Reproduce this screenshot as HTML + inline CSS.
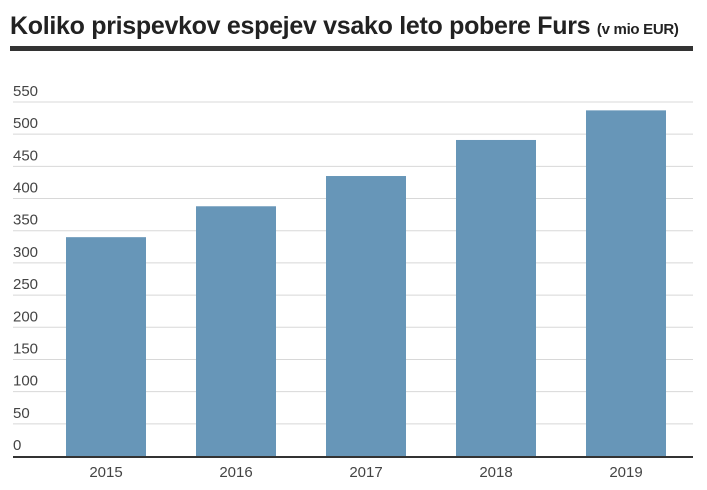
<!DOCTYPE html>
<html><head><meta charset="utf-8"><style>
body{margin:0;background:#fff;width:707px;height:490px;overflow:hidden;font-family:"Liberation Sans Narrow","Liberation Sans",sans-serif}
.t{position:absolute;left:10px;top:12px;font-size:25px;font-weight:bold;color:#222;letter-spacing:-0.3px;white-space:nowrap}
.t span{font-size:15px}
.rule{position:absolute;left:10px;top:46px;width:683px;height:5px;background:#333}
</style></head><body>
<div class="t">Koliko prispevkov espejev vsako leto pobere Furs <span>(v mio EUR)</span></div>
<div class="rule"></div>
<svg id="c" width="707" height="490" style="position:absolute;left:0;top:0"></svg>
<script>
const categories=["2015","2016","2017","2018","2019"];
const values=[340,388,435,491,537];
const ticks=[0,50,100,150,200,250,300,350,400,450,500,550];
const svg=document.getElementById('c');const NS="http://www.w3.org/2000/svg";
const y0=456,y1=102,vmax=550;
const y=v=>y0-(v/vmax)*(y0-y1);
const x=i=>66+i*130;
function mk(t,a){const e=document.createElementNS(NS,t);for(const k in a)e.setAttribute(k,a[k]);svg.appendChild(e);return e;}
ticks.forEach(v=>{
 if(v>0){const l=mk('line',{x1:13,x2:693,y1:y(v),y2:y(v),stroke:'#d8d8d8','stroke-width':1});
 
 }
 const t=mk('text',{x:13,y:y(v)-6,'font-size':15,fill:'#444','font-family':'Liberation Sans Narrow, Liberation Sans, sans-serif'});
 t.textContent=v;
 
 
});
categories.forEach((c,i)=>{
 const r=mk('rect',{x:x(i),y:y(values[i]),width:80,height:y0-y(values[i]),fill:'#6796b8'});
 
 
 const t=mk('text',{x:x(i)+40,y:477,'font-size':15,fill:'#444','text-anchor':'middle','font-family':'Liberation Sans Narrow, Liberation Sans, sans-serif'});
 t.textContent=c;
 
 
});
const b=mk('line',{x1:13,x2:693,y1:y0+1,y2:y0+1,stroke:'#333','stroke-width':2});


</script>
</body></html>
